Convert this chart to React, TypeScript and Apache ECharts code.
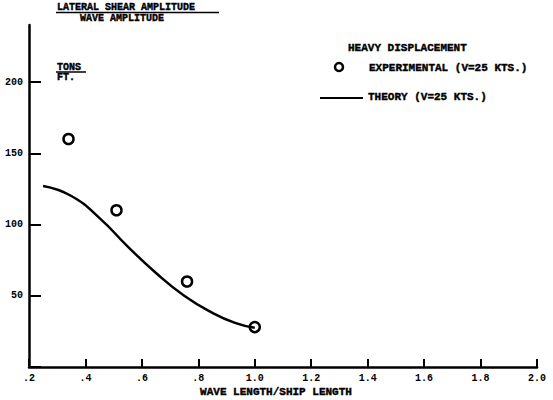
import React, { useEffect, useRef } from "react";
import * as echarts from "echarts";

const xTickValues = [0.2, 0.4, 0.6, 0.8, 1.0, 1.2, 1.4, 1.6, 1.8, 2.0];
const xTickLabels = [".2", ".4", ".6", ".8", "1.0", "1.2", "1.4", "1.6", "1.8", "2.0"];
const yTickValues = [50, 100, 150, 200];
const yTickLabels = ["50", "100", "150", "200"];

const experimentalX = [0.34, 0.51, 0.76, 1.0];
const experimentalY = [160, 110, 60, 28];

const theoryX = [0.25, 0.35, 0.45, 0.55, 0.65, 0.75, 0.85, 0.93, 1.0];
const theoryY = [127, 120, 104.5, 84.5, 66, 50, 38, 31, 27.5];

const titleTop = "LATERAL SHEAR AMPLITUDE";
const titleBottom = "WAVE AMPLITUDE";
const unitTop = "TONS";
const unitBottom = "FT.";
const legendHeader = "HEAVY DISPLACEMENT";
const legendExp = "EXPERIMENTAL (V=25 KTS.)";
const legendTheory = "THEORY (V=25 KTS.)";
const xAxisName = "WAVE LENGTH/SHIP LENGTH";

const FONT = "'Liberation Mono', 'DejaVu Sans Mono', monospace";

export default function App() {
  const ref = useRef<HTMLDivElement>(null);
  useEffect(() => {
    if (!ref.current) return;
    const chart = echarts.init(ref.current, undefined, { renderer: "svg" });
    const txt = (x: number, y: number, text: string, size = 11, align = "left") => ({
      type: "text",
      x,
      y,
      style: {
        text,
        fill: "#000",
        stroke: "#000",
        lineWidth: 0.4,
        font: `bold ${size}px ${FONT}`,
        textAlign: align,
        textVerticalAlign: "middle",
      },
    });
    chart.setOption({
      animation: false,
      backgroundColor: "#fff",
      grid: { left: 29, right: 16, top: 25, bottom: 33 },
      xAxis: {
        type: "value",
        min: 0.2,
        max: 2.0,
        interval: 0.2,
        splitLine: { show: false },
        axisLine: { lineStyle: { color: "#000", width: 2.5 } },
        axisTick: { inside: true, length: 8, lineStyle: { color: "#000", width: 2 } },
        axisLabel: {
          color: "#000",
          fontFamily: FONT,
          fontWeight: "bold",
          fontSize: 10,
          margin: 6,
          formatter: (v: number) => {
            const i = xTickValues.findIndex((t) => Math.abs(t - v) < 1e-6);
            return i >= 0 ? xTickLabels[i] : "";
          },
        },
      },
      yAxis: {
        type: "value",
        min: 0,
        max: 240,
        interval: 50,
        splitLine: { show: false },
        axisLine: { show: true, lineStyle: { color: "#000", width: 2.5 } },
        axisTick: { show: true, inside: true, length: 12, lineStyle: { color: "#000", width: 2 } },
        axisLabel: {
          color: "#000",
          fontFamily: FONT,
          fontWeight: "bold",
          fontSize: 10,
          margin: 6,
          showMaxLabel: false,
          formatter: (v: number) => {
            const i = yTickValues.findIndex((t) => Math.abs(t - v) < 1e-6);
            return i >= 0 ? yTickLabels[i] : "";
          },
        },
      },
      series: [
        {
          type: "line",
          name: "Theory",
          data: theoryX.map((x, i) => [x, theoryY[i]]),
          smooth: 0.5,
          showSymbol: false,
          lineStyle: { color: "#000", width: 2.5 },
        },
        {
          type: "scatter",
          name: "Experimental",
          data: experimentalX.map((x, i) => [x, experimentalY[i]]),
          symbol: "circle",
          symbolSize: 10,
          itemStyle: { color: "#fff", borderColor: "#000", borderWidth: 2.5, opacity: 1 },
        },
      ],
      graphic: [
        txt(57, 7, titleTop, 10),
        { type: "line", shape: { x1: 56, y1: 12.5, x2: 219, y2: 12.5 }, style: { stroke: "#000", lineWidth: 1.5 } },
        txt(80, 18, titleBottom, 10),
        txt(57, 67, unitTop, 10),
        { type: "line", shape: { x1: 56, y1: 72, x2: 86, y2: 72 }, style: { stroke: "#000", lineWidth: 1.5 } },
        txt(57, 77, unitBottom, 10),
        txt(348, 48, legendHeader, 11),
        { type: "circle", shape: { cx: 339, cy: 67, r: 4 }, style: { fill: "#fff", stroke: "#000", lineWidth: 2.5 } },
        txt(369, 68, legendExp, 11),
        { type: "line", shape: { x1: 320, y1: 98, x2: 363, y2: 98 }, style: { stroke: "#000", lineWidth: 2 } },
        txt(368, 97, legendTheory, 11),
        txt(276, 392, xAxisName, 11, "center"),
      ],
    });
    return () => chart.dispose();
  }, []);
  return <div ref={ref} style={{ width: 553, height: 400, position: "absolute", left: 0, top: 0 }} />;
}
